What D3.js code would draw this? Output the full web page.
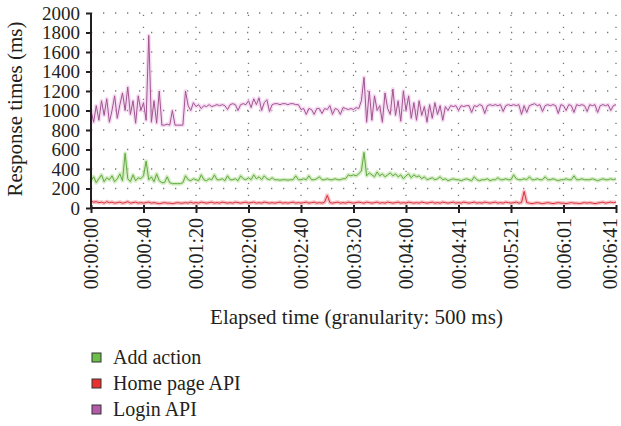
<!DOCTYPE html>
<html>
<head>
<meta charset="utf-8">
<script src="https://cdn.jsdelivr.net/npm/d3@7"></script>
<style>
  body { margin: 0; background: #fff; }
  svg text { font-family: "Liberation Serif", "Times New Roman", Tinos, serif !important; fill: #231f20; }
</style>
</head>
<body>
<div id="chart"></div>
<script>
var svgWidth = 621;
var svgHeight = 426;

var margin = { top: 13, right: 5, bottom: 218, left: 91 };
var width = svgWidth - margin.left - margin.right;
var height = svgHeight - margin.top - margin.bottom;

// tick labels along x (every 20 samples, sample = 2 s of the 500 ms series)
var timeLabels = ["00:00:00", "00:00:40", "00:01:20", "00:02:00", "00:02:40", "00:03:20",
  "00:04:00", "00:04:41", "00:05:21", "00:06:01", "00:06:41"];
var yTicks = [0, 200, 400, 600, 800, 1000, 1200, 1400, 1600, 1800, 2000];

var seriesNames = ["Add action", "Home page API", "Login API"];

var loginApi = [
  1000, 880, 1050, 900, 1100, 950, 1120, 880, 1000, 1150,
  920, 1060, 1180, 1000, 1240, 960, 1100, 870, 1150, 1000,
  1080, 900, 1770, 880, 1100, 870, 1200, 850, 850, 860,
  850, 1000, 850, 850, 850, 850, 1200, 1050, 1000, 1080,
  1040, 1060, 1020, 1050, 1040, 1060, 1040, 1050, 1060, 1050,
  1060, 1050, 1010, 1060, 1070, 1060, 1000, 1060, 1070, 1060,
  1100, 1030, 1120, 1060, 1130, 1000, 1080, 1110, 990, 1060,
  1070, 1070, 1060, 1070, 1070, 1060, 1070, 1070, 1060, 1060,
  1010, 1020, 960, 1020, 1010, 960, 1020, 1020, 970, 1020,
  1010, 1050, 960, 1020, 1010, 960, 1030, 1020, 1010, 1020,
  1010, 1030, 1020, 1100, 1340, 880, 1200, 900, 1150, 1000,
  1050, 880, 1180, 1020, 960, 1220, 950, 1100, 890, 1200,
  1000, 1150, 920, 1080, 900, 1100, 950, 1040, 880, 1060,
  920, 1080, 960, 1050, 900, 1040, 1000, 1050, 1040, 1050,
  1000, 1050, 1040, 1050, 1050, 980, 1050, 1040, 1060, 1050,
  970, 1050, 1060, 1050, 1060, 1050, 1060, 990, 1050, 1060,
  1050, 1060, 1050, 1060, 960, 1050, 980, 1050, 1060, 1070,
  1050, 1060, 990, 1050, 1060, 1050, 1060, 1050, 970, 1060,
  1050, 1000, 1060, 1050, 980, 1060, 1050, 1060, 1050, 990,
  1060, 1050, 1060, 980, 1050, 1060, 1050, 1060, 1000, 1050,
  1060
];

var addAction = [
  280, 320, 260, 300, 340, 270, 310, 290, 330, 270,
  300, 350, 280, 560, 300, 270, 340, 280, 310, 300,
  330, 480, 290, 320, 270, 350, 280, 260, 260, 320,
  260, 250, 250, 250, 250, 260, 330, 290, 280, 300,
  290, 280, 340, 290, 280, 300, 290, 340, 290, 290,
  300, 280, 330, 290, 290, 300, 280, 330, 300, 290,
  310, 290, 340, 300, 320, 290, 330, 300, 290, 310,
  290, 290, 285, 290, 290, 285, 290, 290, 330, 290,
  290, 300, 290, 330, 290, 290, 300, 320, 290, 290,
  300, 290, 290, 300, 290, 290, 300, 300, 340, 330,
  340, 330, 350, 380, 570, 330, 360, 340, 320, 370,
  330, 350, 320, 340, 360, 330, 350, 320, 340, 300,
  330, 350, 310, 340, 320, 330, 300, 320, 290, 300,
  310, 290, 300, 320, 290, 300, 280, 290, 300, 290,
  290, 280, 290, 300, 290, 280, 320, 290, 280, 290,
  290, 300, 280, 290, 290, 310, 290, 290, 300, 290,
  290, 340, 300, 290, 290, 300, 290, 320, 290, 290,
  300, 290, 290, 320, 290, 290, 300, 290, 280, 290,
  290, 300, 290, 290, 330, 290, 290, 300, 290, 290,
  290, 300, 290, 280, 290, 300, 290, 290, 300, 290,
  300
];

var homePageApi = [
  70, 60, 65, 55, 60, 50, 65, 55, 60, 50,
  55, 60, 50, 55, 65, 50, 55, 60, 50, 55,
  50, 55, 60, 50, 55, 50, 45, 50, 55, 50,
  50, 45, 50, 55, 50, 50, 55, 50, 60, 50,
  55, 50, 60, 55, 50, 55, 60, 50, 55, 50,
  60, 55, 50, 55, 50, 60, 55, 50, 55, 60,
  50, 55, 60, 50, 55, 50, 60, 55, 50, 55,
  50, 55, 60, 50, 55, 50, 55, 60, 50, 55,
  50, 55, 60, 50, 55, 60, 50, 55, 50, 60,
  130, 55, 50, 55, 60, 50, 55, 50, 60, 55,
  50, 55, 60, 55, 50, 60, 55, 50, 55, 60,
  50, 55, 50, 60, 55, 50, 55, 60, 50, 55,
  50, 60, 55, 50, 55, 50, 60, 55, 50, 55,
  60, 50, 55, 50, 60, 55, 50, 55, 60, 50,
  55, 50, 60, 55, 50, 55, 60, 50, 55, 50,
  60, 55, 50, 55, 60, 50, 55, 50, 60, 55,
  50, 55, 60, 50, 55, 170, 55, 50, 45, 50,
  55, 50, 45, 50, 55, 50, 45, 50, 55, 50,
  50, 45, 50, 55, 50, 50, 45, 50, 55, 50,
  55, 50, 45, 50, 55, 60, 50, 55, 60, 55,
  60
];

var seriesData = [addAction, homePageApi, loginApi];
var lineColors = ["#62a844", "#d8303c", "#a0558f"];
var haloColors = ["#c2e6a8", "#f3a8ae", "#f2cdee"];
var boxColors = ["#6cc04a", "#e8322f", "#b35aa8"];

var svg = d3.select("#chart")
  .append("svg")
  .attr("width", svgWidth)
  .attr("height", svgHeight);

var chartGroup = svg.append("g")
  .attr("transform", `translate(${margin.left}, ${margin.top})`);

var xScale = d3.scaleLinear()
  .domain([0, loginApi.length - 1])
  .range([0, width]);

var yScale = d3.scaleLinear()
  .domain([0, 2000])
  .range([height, 0]);

var xTickVals = timeLabels.map((d, i) => i * 20);

// dotted grid
chartGroup.append("g")
  .selectAll("line")
  .data(yTicks.filter(d => d > 0))
  .enter()
  .append("line")
  .attr("x1", 0)
  .attr("x2", width)
  .attr("y1", d => yScale(d))
  .attr("y2", d => yScale(d))
  .attr("stroke", "#777")
  .attr("stroke-width", 1.3)
  .attr("stroke-dasharray", "1.3,10.7");

chartGroup.append("g")
  .selectAll("line")
  .data(xTickVals.filter(d => d > 0))
  .enter()
  .append("line")
  .attr("x1", d => xScale(d))
  .attr("x2", d => xScale(d))
  .attr("y1", height)
  .attr("y2", 0)
  .attr("stroke", "#777")
  .attr("stroke-width", 1.3)
  .attr("stroke-dasharray", "1.3,10.7");

var line = d3.line()
  .x((d, i) => xScale(i))
  .y(d => yScale(d));

// light halo under each line, then the line itself
seriesData.forEach(function(values, k) {
  chartGroup.append("path")
    .datum(values)
    .attr("fill", "none")
    .attr("stroke", haloColors[k])
    .attr("stroke-width", 4)
    .attr("stroke-linejoin", "round")
    .attr("opacity", 0.7)
    .attr("d", line);
});
seriesData.forEach(function(values, k) {
  chartGroup.append("path")
    .datum(values)
    .attr("fill", "none")
    .attr("stroke", lineColors[k])
    .attr("stroke-width", 1)
    .attr("stroke-linejoin", "round")
    .attr("d", line);
});

// axes
var leftAxis = d3.axisLeft(yScale)
  .tickValues(yTicks)
  .tickFormat(d3.format("d"))
  .tickSize(5)
  .tickPadding(6);

var bottomAxis = d3.axisBottom(xScale)
  .tickValues(xTickVals)
  .tickFormat((d, i) => timeLabels[i])
  .tickSize(5);

var yAxisG = chartGroup.append("g").call(leftAxis).attr("font-family", null);
yAxisG.select(".domain").attr("stroke", "#231f20").attr("stroke-width", 2).attr("d", `M0,0V${height}`);
yAxisG.selectAll(".tick line").attr("stroke", "#231f20").attr("stroke-width", 2);
yAxisG.selectAll("text")
  .style("font-size", "19px")
  .attr("fill", "#231f20");

var xAxisG = chartGroup.append("g")
  .attr("transform", `translate(0, ${height})`)
  .call(bottomAxis)
  .attr("font-family", null);
xAxisG.select(".domain").attr("stroke", "#231f20").attr("stroke-width", 2).attr("d", `M0,0H${width}`);
xAxisG.selectAll(".tick line").attr("stroke", "#231f20").attr("stroke-width", 2).attr("y1", -3);
// last label sits at the window edge, nudge it in so it is not clipped
xAxisG.selectAll("text")
  .style("font-size", "20px")
  .attr("fill", "#231f20")
  .attr("transform", "rotate(-90)")
  .attr("text-anchor", "end")
  .attr("x", -10)
  .attr("y", (d, i) => i === timeLabels.length - 1 ? -6 : 0)
  .attr("dy", "0.33em");

// axis titles
chartGroup.append("text")
  .attr("x", width / 2 + 3)
  .attr("y", height + 116)
  .attr("text-anchor", "middle")
  .style("font-size", "21px")
  .text("Elapsed time (granularity: 500 ms)");

chartGroup.append("text")
  .attr("transform", "rotate(-90)")
  .attr("x", -96)
  .attr("y", -69)
  .attr("text-anchor", "middle")
  .style("font-size", "21px")
  .text("Response times (ms)");

// legend
var legend = svg.append("g")
  .attr("transform", "translate(92, 357)");

var legendItems = legend.selectAll("g")
  .data(seriesNames)
  .enter()
  .append("g")
  .attr("transform", (d, i) => `translate(0, ${i * 26})`);

legendItems.append("rect")
  .attr("x", 0)
  .attr("y", -4)
  .attr("width", 9)
  .attr("height", 9)
  .attr("fill", (d, i) => boxColors[i])
  .attr("stroke", "#333")
  .attr("stroke-width", 1);

legendItems.append("text")
  .attr("x", 21)
  .attr("y", 7)
  .style("font-size", "20px")
  .text(d => d);
</script>
</body>
</html>
